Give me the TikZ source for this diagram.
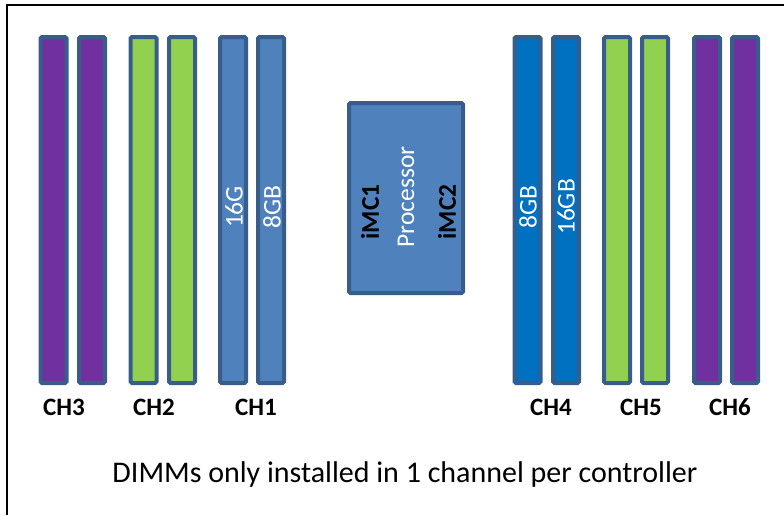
\documentclass[tikz,border=0pt]{standalone}
\usepackage{fontspec}
\setmainfont{Carlito}
\definecolor{dimmedge}{HTML}{385D8A}
\definecolor{dimmpurple}{HTML}{7030A0}
\definecolor{dimmgreen}{HTML}{92D050}
\definecolor{dimmblue}{HTML}{4F81BD}
\definecolor{dimmdeep}{HTML}{0070C0}
\begin{document}
\begin{tikzpicture}[x=1pt,y=-1pt,
	dimm/.style={draw=dimmedge, line width=4pt, rounded corners=1.5pt, minimum width=26pt, minimum height=346pt, inner sep=0pt},
	size/.style={rotate=90, text=white, inner sep=0pt, font=\fontsize{25.5}{25.5}\selectfont},
	imc/.style={rotate=90, inner sep=0pt, font=\fontsize{25.5}{25.5}\selectfont\bfseries},
	chlabel/.style={anchor=base, inner sep=0pt, font=\fontsize{25}{25}\selectfont\bfseries}]
			\useasboundingbox (0,0) rectangle (784,515);
			\draw[line width=2pt] (7,515) -- (7,5) -- (784,5);
			% left side
			\node[dimm, fill=dimmpurple] (ch3a) at (53.5,210) {};
			\node[dimm, fill=dimmpurple] (ch3b) at (92,210) {};
			\node[dimm, fill=dimmgreen] (ch2a) at (143.5,210) {};
			\node[dimm, fill=dimmgreen] (ch2b) at (182,210) {};
			\node[dimm, fill=dimmblue] (ch1a) at (233,210) {};
			\node[dimm, fill=dimmblue] (ch1b) at (271,210) {};
			\node[size] (ch1atext) at (234,207) {16G};
			\node[size] (ch1btext) at (272,207) {8GB};
			% processor
			\node[draw=dimmedge, fill=dimmblue, line width=4pt, rounded corners=1.5pt, minimum width=114pt, minimum height=190pt] (cpu) at (406,198) {};
			\node[imc] (imc1) at (370,212) {iMC1};
			\node[size] (cputext) at (406,197) {Processor};
			\node[imc] (imc2) at (447,212) {iMC2};
			% right side
			\node[dimm, fill=dimmdeep] (ch4a) at (527.5,210) {};
			\node[dimm, fill=dimmdeep] (ch4b) at (566,210) {};
			\node[dimm, fill=dimmgreen] (ch5a) at (617,210) {};
			\node[dimm, fill=dimmgreen] (ch5b) at (655,210) {};
			\node[dimm, fill=dimmpurple] (ch6a) at (707,210) {};
			\node[dimm, fill=dimmpurple] (ch6b) at (745,210) {};
			\node[size] (ch4atext) at (528,207) {8GB};
			\node[size] (ch4btext) at (566,207) {16GB};
			% channel names
			\node[chlabel] (ch3) at (64,415) {CH3};
			\node[chlabel] (ch2) at (154,415) {CH2};
			\node[chlabel] (ch1) at (256,415) {CH1};
			\node[chlabel] (ch4) at (551,415) {CH4};
			\node[chlabel] (ch5) at (641,415) {CH5};
			\node[chlabel] (ch6) at (730,415) {CH6};
			\node[anchor=base, inner sep=0pt, font=\fontsize{30}{30}\selectfont] (note) at (405,482) {DIMMs only installed in 1 channel per controller};
			\end{tikzpicture}
\end{document}
